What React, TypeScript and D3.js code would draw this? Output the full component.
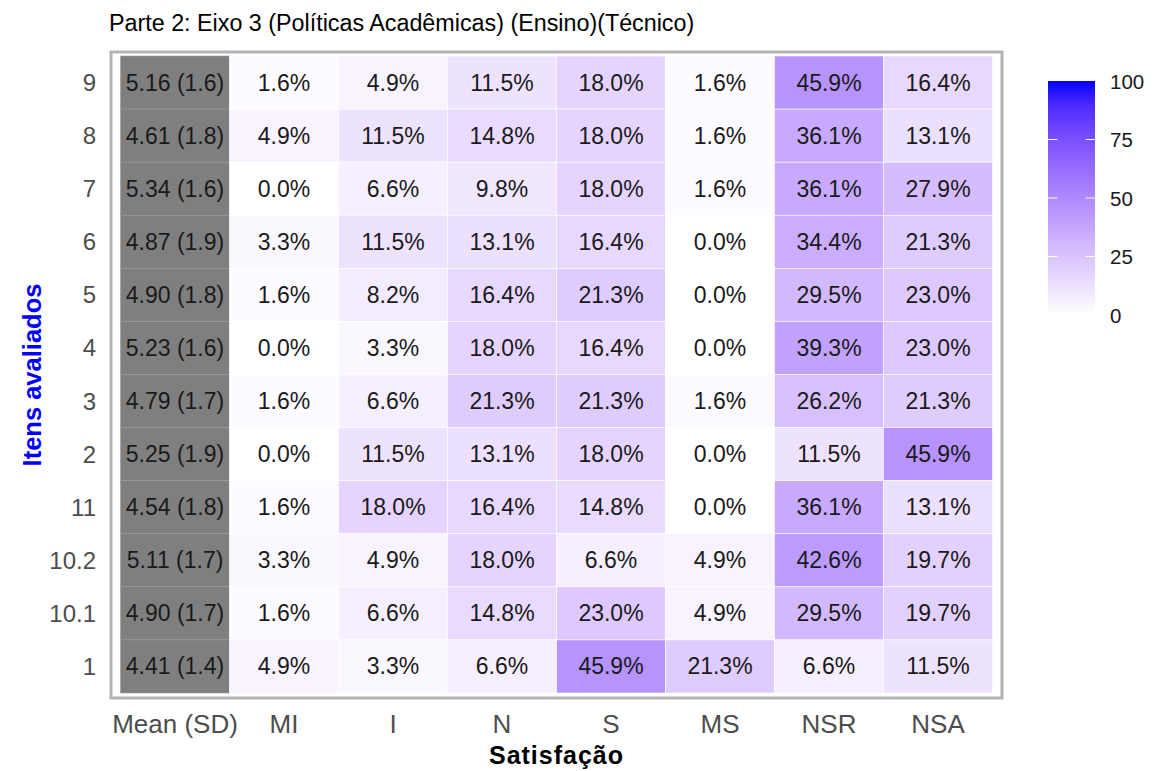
import React from "react";
import * as d3 from "d3";

const rows = ["9", "8", "7", "6", "5", "4", "3", "2", "11", "10.2", "10.1", "1"];
const columns = ["Mean (SD)", "MI", "I", "N", "S", "MS", "NSR", "NSA"];
const meanSd = [
  "5.16 (1.6)", "4.61 (1.8)", "5.34 (1.6)", "4.87 (1.9)", "4.90 (1.8)", "5.23 (1.6)",
  "4.79 (1.7)", "5.25 (1.9)", "4.54 (1.8)", "5.11 (1.7)", "4.90 (1.7)", "4.41 (1.4)",
];
const MI = [1.6, 4.9, 0.0, 3.3, 1.6, 0.0, 1.6, 0.0, 1.6, 3.3, 1.6, 4.9];
const I = [4.9, 11.5, 6.6, 11.5, 8.2, 3.3, 6.6, 11.5, 18.0, 4.9, 6.6, 3.3];
const N = [11.5, 14.8, 9.8, 13.1, 16.4, 18.0, 21.3, 13.1, 16.4, 18.0, 14.8, 6.6];
const S = [18.0, 18.0, 18.0, 16.4, 21.3, 16.4, 21.3, 18.0, 14.8, 6.6, 23.0, 45.9];
const MS = [1.6, 1.6, 1.6, 0.0, 0.0, 0.0, 1.6, 0.0, 0.0, 4.9, 4.9, 21.3];
const NSR = [45.9, 36.1, 36.1, 34.4, 29.5, 39.3, 26.2, 11.5, 36.1, 42.6, 29.5, 6.6];
const NSA = [16.4, 13.1, 27.9, 21.3, 23.0, 23.0, 21.3, 45.9, 13.1, 19.7, 19.7, 11.5];
const legendTicks = [0, 25, 50, 75, 100];

const title = "Parte 2: Eixo 3 (Políticas Acadêmicas) (Ensino)(Técnico)";
const xTitle = "Satisfação";
const yTitle = "Itens avaliados";

const FONT = "'Liberation Sans', Arial, Helvetica, sans-serif";

export default function App() {
  const W = 1157, H = 771;
  const panel = { x0: 111, x1: 1002, y0: 52, y1: 698 };
  const x = d3.scaleBand<string>().domain(columns).range([120.5, 992.5]);
  const y = d3.scaleBand<string>().domain(rows).range([56, 693]);
  const color = d3.scaleLinear<string>().domain([0, 100]).range(["white", "blue"]).interpolate(d3.interpolateLab);

  const series = [MI, I, N, S, MS, NSR, NSA];
  const cells: { col: string; row: string; v: number }[] = [];
  series.forEach((arr, ci) => arr.forEach((v, ri) => cells.push({ col: columns[ci + 1], row: rows[ri], v })));

  const lg = { x: 1048, w: 47, y0: 81, y1: 315 };
  const ly = d3.scaleLinear().domain([0, 100]).range([lg.y1, lg.y0]);
  const gradStops = d3.range(0, 101, 10);

  return (
    <svg width={W} height={H} style={{ position: "absolute", left: 0, top: 0, background: "white" }} fontFamily={FONT}>
      <defs>
        <linearGradient id="lg" x1="0" y1="1" x2="0" y2="0">
          {gradStops.map((s) => (
            <stop key={s} offset={`${s}%`} stopColor={color(s)} />
          ))}
        </linearGradient>
      </defs>
      <rect x={0} y={0} width={W} height={H} fill="white" />
      <text x={109} y={31} fontSize={23.3} fill="#000">{title}</text>

      {/* tiles */}
      {rows.map((r, ri) => (
        <g key={"m" + r}>
          <rect x={x("Mean (SD)")} y={y(r)} width={x.bandwidth()} height={y.bandwidth()} fill="#7F7F7F" stroke="#9a9a9a" strokeWidth={0.6} />
          <text x={x("Mean (SD)")! + x.bandwidth() / 2} y={y(r)! + y.bandwidth() / 2} textAnchor="middle" dominantBaseline="central" fontSize={23} fill="#1a1a1a">{meanSd[ri]}</text>
        </g>
      ))}
      {cells.map((c) => (
        <g key={c.col + c.row}>
          <rect x={x(c.col)} y={y(c.row)} width={x.bandwidth()} height={y.bandwidth()} fill={color(c.v)} stroke="white" strokeWidth={0.6} />
          <text x={x(c.col)! + x.bandwidth() / 2} y={y(c.row)! + y.bandwidth() / 2} textAnchor="middle" dominantBaseline="central" fontSize={23} fill="#1a1a1a">{c.v.toFixed(1) + "%"}</text>
        </g>
      ))}
      <rect x={panel.x0} y={panel.y0} width={panel.x1 - panel.x0} height={panel.y1 - panel.y0} fill="none" stroke="#B3B3B3" strokeWidth={3} />

      {/* y axis labels */}
      {rows.map((r) => (
        <text key={"yl" + r} x={96} y={y(r)! + y.bandwidth() / 2} textAnchor="end" dominantBaseline="central" fontSize={24} fill="#4D4D4D">{r}</text>
      ))}
      {/* x axis labels */}
      {columns.map((c) => (
        <text key={"xl" + c} x={x(c)! + x.bandwidth() / 2} y={733} textAnchor="middle" fontSize={26} fill="#4D4D4D">{c}</text>
      ))}
      <text x={(panel.x0 + panel.x1) / 2} y={764} textAnchor="middle" fontSize={25} letterSpacing={1} fontWeight="bold" fill="#000">{xTitle}</text>
      <text transform={`translate(41,${(panel.y0 + panel.y1) / 2}) rotate(-90)`} textAnchor="middle" fontSize={25.5} fontWeight="bold" fill="blue">{yTitle}</text>

      {/* legend */}
      <rect x={lg.x} y={lg.y0} width={lg.w} height={lg.y1 - lg.y0} fill="url(#lg)" />
      {legendTicks.map((t) => (
        <g key={"lt" + t}>
          {t > 0 && t < 100 && (
            <>
              <line x1={lg.x} x2={lg.x + lg.w / 5} y1={ly(t)} y2={ly(t)} stroke="white" strokeWidth={1} />
              <line x1={lg.x + lg.w - lg.w / 5} x2={lg.x + lg.w} y1={ly(t)} y2={ly(t)} stroke="white" strokeWidth={1} />
            </>
          )}
          <text x={1110} y={ly(t)} dominantBaseline="central" fontSize={20.5} fill="#1a1a1a">{t}</text>
        </g>
      ))}
    </svg>
  );
}
